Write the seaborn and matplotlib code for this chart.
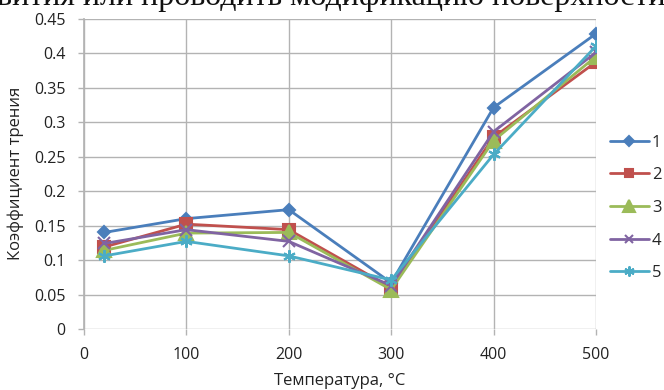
import matplotlib
matplotlib.use("Agg")
import matplotlib.pyplot as plt
import matplotlib.ticker as mticker
import seaborn as sns
import pandas as pd

temps = [20, 100, 200, 300, 400, 500]
s1 = [0.140, 0.160, 0.173, 0.067, 0.321, 0.428]
s2 = [0.119, 0.152, 0.144, 0.060, 0.278, 0.387]
s3 = [0.114, 0.139, 0.140, 0.057, 0.273, 0.395]
s4 = [0.124, 0.144, 0.127, 0.063, 0.286, 0.401]
s5 = [0.106, 0.127, 0.106, 0.071, 0.253, 0.410]
labels = ["1", "2", "3", "4", "5"]
series = [s1, s2, s3, s4, s5]
colors = ["#4A7EBB", "#C0504D", "#9BBB59", "#8064A2", "#4BACC6"]
markers = ["D", "s", "^", "x", (6, 2, 0)]
msizes = [6, 8, 10, 8, 9]

rows = []
for lab, vals in zip(labels, series):
    for t, v in zip(temps, vals):
        rows.append({"T": t, "mu": v, "series": lab})
df = pd.DataFrame(rows)

sns.set_theme(style="white")
plt.rcParams["font.family"] = ["Open Sans", "DejaVu Sans"]

fig = plt.figure(figsize=(6.64, 3.9), dpi=100)
ax = fig.add_axes([0.1265, 0.1564, 0.771, 0.796])

for lab, col, mk, ms in zip(labels, colors, markers, msizes):
    sub = df[df["series"] == lab]
    sns.lineplot(data=sub, x="T", y="mu", ax=ax, color=col, marker=mk,
                 markersize=ms, linewidth=2.0, label=lab,
                 markeredgecolor=col, markeredgewidth=1.5, markerfacecolor=col)

ax.set_xlim(0, 500)
ax.set_ylim(0, 0.45)
ax.xaxis.set_major_locator(mticker.MultipleLocator(100))
ax.yaxis.set_major_locator(mticker.MultipleLocator(0.05))
ax.yaxis.set_major_formatter(mticker.FuncFormatter(
    lambda v, p: ("%.2f" % v).rstrip("0").rstrip(".") if abs(v) > 1e-9 else "0"))
ax.grid(True, color="#B3B3B3", linewidth=1.0)
for side in ["top", "right", "bottom"]:
    ax.spines[side].set_visible(False)
ax.spines["left"].set_color("#B3B3B3")
ax.tick_params(axis="y", which="both", left=True, length=4.3, width=1.0,
               color="#B3B3B3", labelsize=11.5, pad=9, labelcolor="#222222")
ax.tick_params(axis="x", which="both", bottom=True, length=4.3, width=1.0,
               color="#B3B3B3", labelsize=11.5, pad=9, labelcolor="#222222")
ax.set_xlabel("Температура, °C", fontsize=12, color="#222222", labelpad=7)
ax.set_ylabel("Коэффициент трения", fontsize=12, color="#222222", labelpad=7)

leg = ax.legend(loc="center left", bbox_to_anchor=(1.028, 0.39), frameon=False,
                fontsize=12, handlelength=2.3, handletextpad=0.2,
                labelspacing=1.0, borderaxespad=0, borderpad=0, markerscale=0.8)

fig.text(-0.004, 1 - 5.5 / 390, "вития или проводить модификацию поверхности",
         family=["Liberation Serif", "DejaVu Serif"], fontsize=23,
         ha="left", va="baseline", color="#111111")

fig.savefig("out.png", dpi=100)
